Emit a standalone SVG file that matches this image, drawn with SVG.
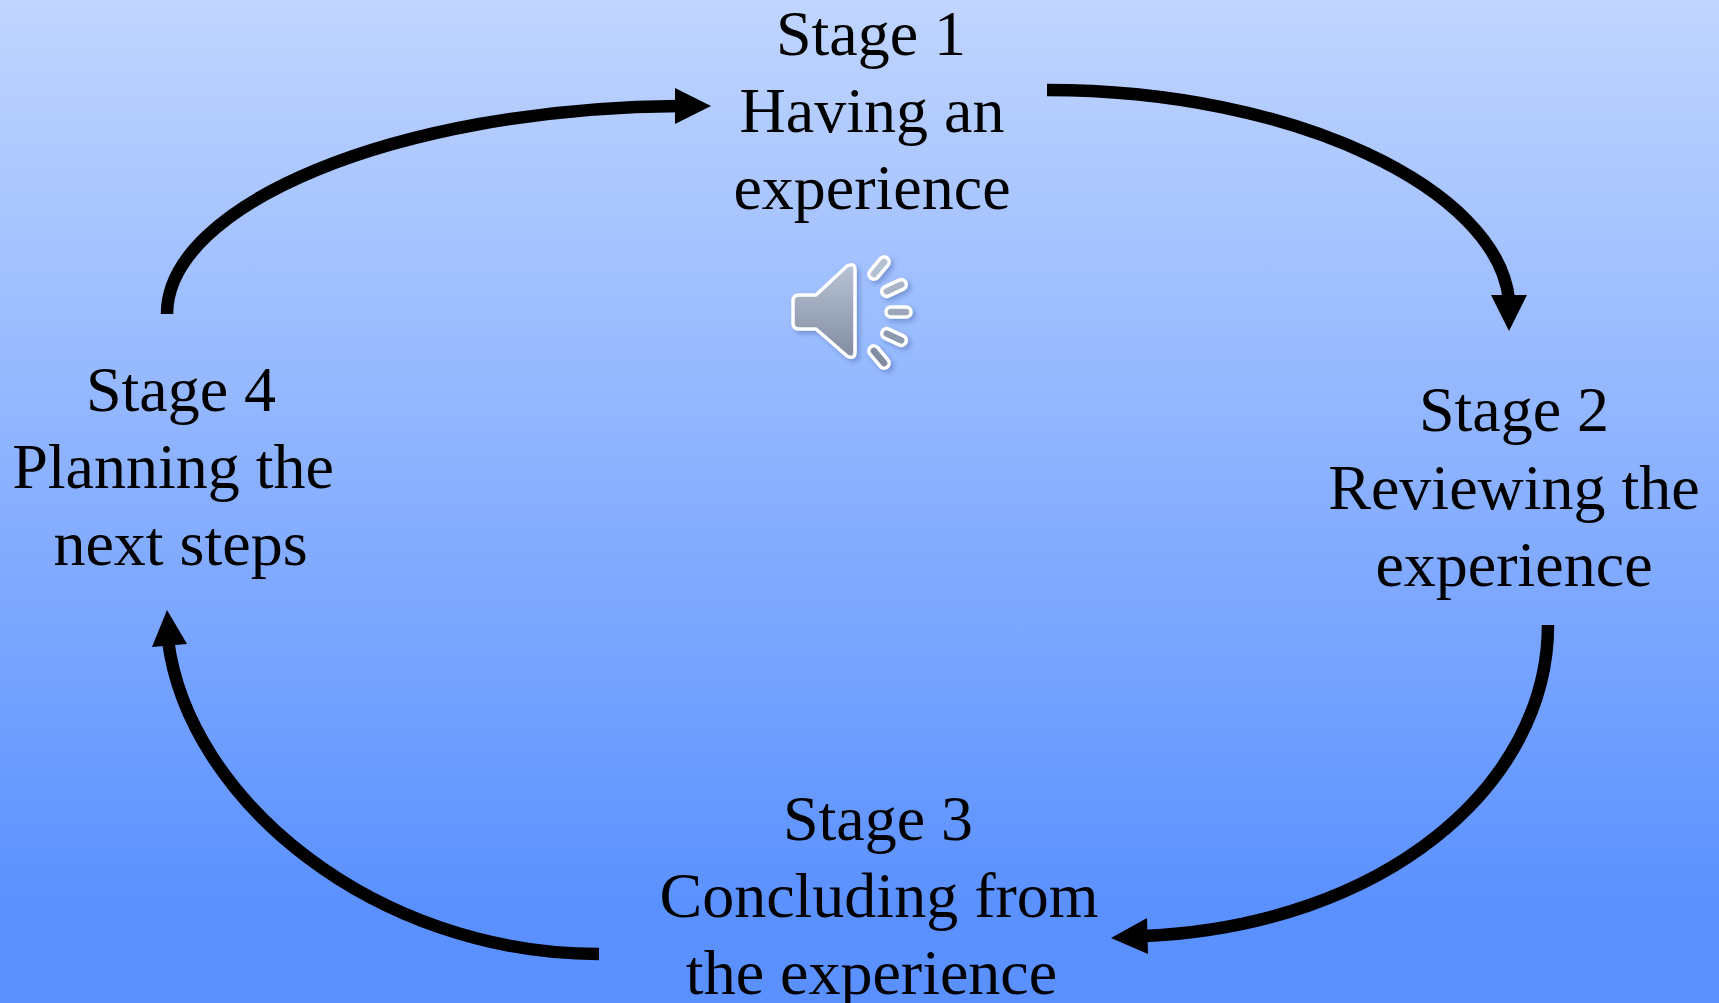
<svg xmlns="http://www.w3.org/2000/svg" width="1719" height="1003" viewBox="0 0 1719 1003">
<defs>
<linearGradient id="bg" x1="0" y1="0" x2="0" y2="1"><stop offset="0" stop-color="#c0d5ff"/><stop offset="0.9" stop-color="#5b91ff"/><stop offset="1" stop-color="#5a90ff"/></linearGradient>
<linearGradient id="spk" gradientUnits="userSpaceOnUse" x1="0" y1="262" x2="0" y2="362"><stop offset="0" stop-color="#b9c4d6"/><stop offset="1" stop-color="#7f8a9f"/></linearGradient>
<filter id="sh" x="-20%" y="-20%" width="150%" height="150%"><feDropShadow dx="3" dy="3" stdDeviation="2.5" flood-color="#3a5a99" flood-opacity="0.4"/></filter>
</defs>
<style>
.t{font-family:"Liberation Serif","Times New Roman",serif;font-size:64px;fill:#000;text-anchor:middle}
.a{fill:none;stroke:#000;stroke-width:12.5}
.h{fill:#000}
.s{fill:url(#spk);stroke:#fff;stroke-width:3.5;stroke-linejoin:round}
</style>
<rect width="1719" height="1003" fill="url(#bg)"/>
<g id="connectors">
<path class="a" d="M1047 90C1296 90 1498 190 1509 300"/>
<polygon class="h" points="1491,295 1527,295 1509,331"/>
<path class="a" d="M1548 625C1548 785 1385 925 1145 936"/>
<polygon class="h" points="1111,938 1147,918 1148,954"/>
<path class="a" d="M599 954C375 954 188 800 168 640"/>
<polygon class="h" points="167,610 152,647 187,644"/>
<path class="a" d="M167 314C167 205 395 108 680 106"/>
<polygon class="h" points="711,106 675,88 675,124"/>
</g>
<g id="stage1"><text class="t" x="871" y="55">Stage 1</text><text class="t" x="872" y="132">Having an</text><text class="t" x="872" y="209">experience</text></g>
<g id="stage2"><text class="t" x="1514" y="431">Stage 2</text><text class="t" x="1514" y="509">Reviewing the</text><text class="t" x="1514" y="586">experience</text></g>
<g id="stage3"><text class="t" x="878" y="840">Stage 3</text><text class="t" x="879" y="917">Concluding from</text><text class="t" x="871.5" y="994">the experience</text></g>
<g id="stage4"><text class="t" x="181" y="411">Stage 4</text><text class="t" x="173" y="488">Planning the</text><text class="t" x="180.500" y="565">next steps</text></g>
<g id="speaker" filter="url(#sh)">
<path class="s" d="M799 295H816L847 266Q855 262 855 270V352Q855 360 847 356L816 329H799Q793 329 793 323V301Q793 295 799 295Z"/>
<rect class="s" x="866" y="263" width="26" height="10" rx="5" transform="rotate(-50 879 268)"/>
<rect class="s" x="881" y="283" width="26" height="10" rx="5" transform="rotate(-25 894 288)"/>
<rect class="s" x="886" y="307" width="25" height="10" rx="5"/>
<rect class="s" x="881" y="332" width="26" height="10" rx="5" transform="rotate(25 894 337)"/>
<rect class="s" x="866" y="352" width="26" height="10" rx="5" transform="rotate(50 879 357)"/>
</g>
</svg>
